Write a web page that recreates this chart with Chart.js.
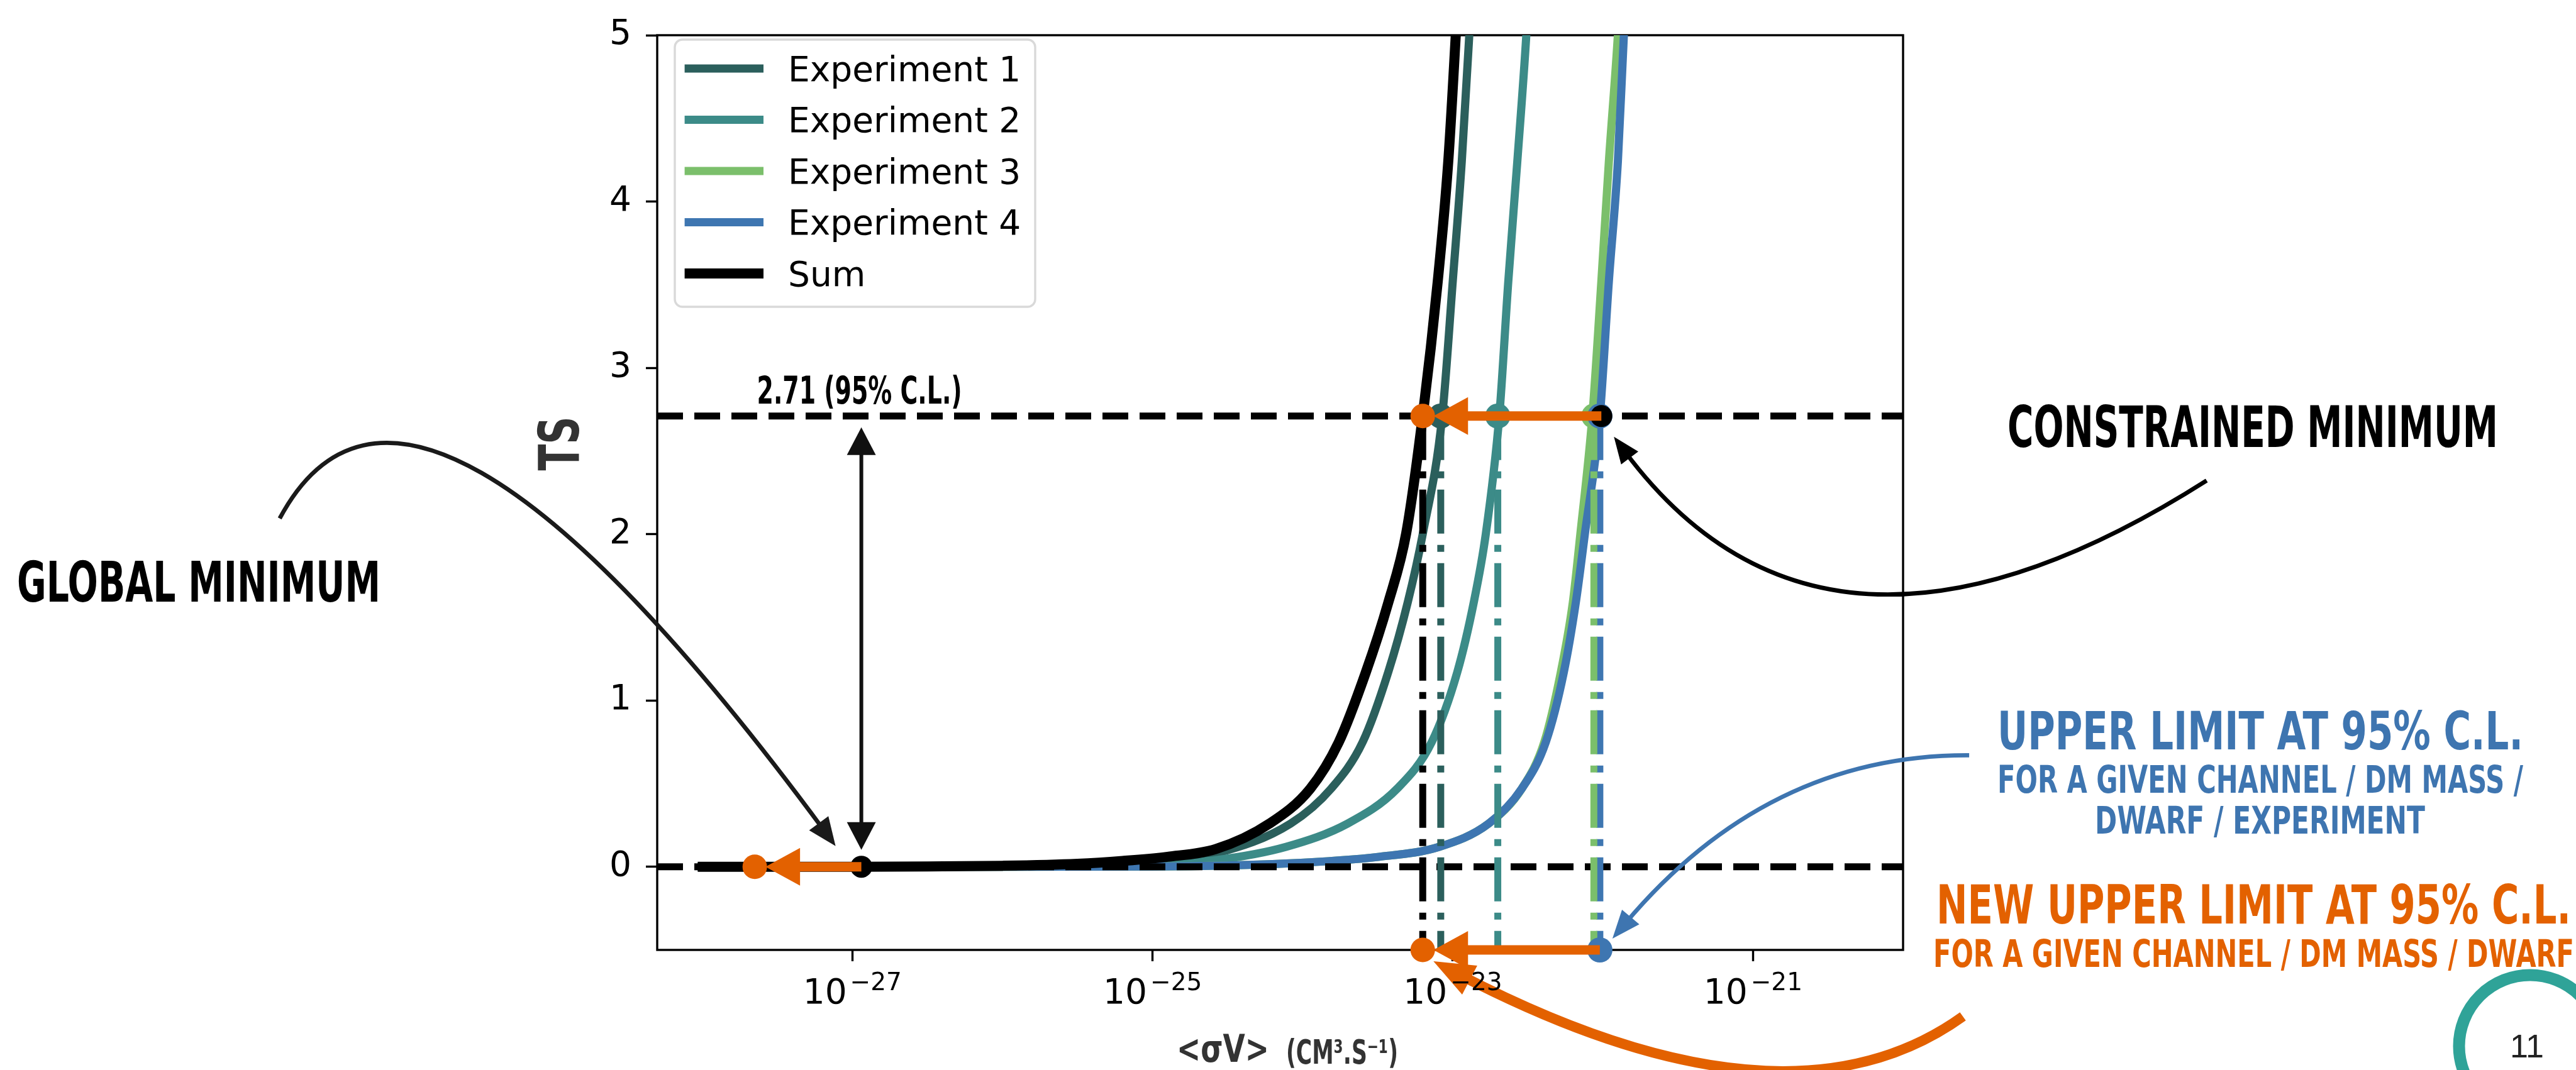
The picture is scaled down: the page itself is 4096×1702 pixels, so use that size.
<!DOCTYPE html>
<html>
<head>
<meta charset="utf-8">
<script src="https://cdn.jsdelivr.net/npm/chart.js@4.4.0/dist/chart.umd.min.js"></script>
<style>
  html, body { margin: 0; padding: 0; background: #fff; overflow: hidden; }
  #wrap { width: 4096px; height: 1702px; }
</style>
</head>
<body>
<div id="wrap"><canvas id="c"></canvas></div>
<script>
// x values are log10(<sigma v>)
const sumLogSv = [-28.03, -27.5, -27.0, -26.5, -26.0, -25.5, -25.2, -24.9, -24.58, -24.22, -23.95, -23.76, -23.58, -23.43, -23.31, -23.20, -23.10, -23.03, -22.98, -22.95];
const sumTS    = [0, 0, 0, 0.002, 0.006, 0.018, 0.035, 0.06, 0.106, 0.26, 0.469, 0.748, 1.167, 1.587, 2.006, 2.71, 3.52, 4.24, 5.0, 5.5];

const exp1LogSv = [-28.03, -27.0, -26.0, -25.5, -25.0, -24.58, -24.08, -23.81, -23.60, -23.43, -23.30, -23.20, -23.07, -23.00, -22.94, -22.89, -22.86];
const exp1TS    = [0, 0, 0.004, 0.01, 0.03, 0.08, 0.26, 0.47, 0.75, 1.17, 1.59, 2.0, 2.71, 3.52, 4.24, 5.0, 5.5];

const exp2LogSv = [-28.03, -27.0, -26.0, -25.0, -24.58, -24.11, -23.70, -23.37, -23.14, -22.97, -22.86, -22.78, -22.69, -22.63, -22.57, -22.51, -22.48];
const exp2TS    = [0, 0, 0.002, 0.015, 0.04, 0.12, 0.26, 0.47, 0.75, 1.17, 1.59, 2.0, 2.71, 3.52, 4.24, 5.0, 5.5];

const exp3LogSv = [-28.03, -26.0, -25.0, -24.11, -23.49, -23.09, -22.76, -22.54, -22.39, -22.28, -22.20, -22.15, -22.07, -22.01, -21.96, -21.90, -21.87];
const exp3TS    = [0, 0, 0.002, 0.02, 0.06, 0.12, 0.26, 0.47, 0.75, 1.17, 1.59, 2.0, 2.71, 3.52, 4.24, 5.0, 5.5];

const exp4LogSv = [-28.03, -26.0, -25.0, -24.11, -23.49, -23.09, -22.76, -22.54, -22.38, -22.26, -22.18, -22.12, -22.02, -21.96, -21.90, -21.86, -21.83];
const exp4TS    = [0, 0, 0.002, 0.02, 0.06, 0.12, 0.26, 0.47, 0.75, 1.17, 1.59, 2.0, 2.71, 3.52, 4.24, 5.0, 5.5];

const seriesLabels = ["Experiment 1", "Experiment 2", "Experiment 3", "Experiment 4", "Sum"];
const seriesColors = ["#2b5f5c", "#3c8b88", "#7bbf6b", "#3e76b1", "#000000"];

const thresholdTS = [0, 2.71];
const upperLimitLogSv = [-23.20, -23.08, -22.70, -22.06, -22.02]; // sum, exp 1..4 at TS = 2.71
const upperLimitColors = ["#000000", "#2b5f5c", "#3c8b88", "#7bbf6b", "#3e76b1"];

const expDotLogSv = [-23.08, -22.70, -22.06, -22.02, -22.02];
const expDotTS    = [2.71, 2.71, 2.71, 2.71, -0.5];
const expDotColors = ["#2b5f5c", "#3c8b88", "#7bbf6b", "#3e76b1", "#3e76b1"];

const newLimitLogSv = [-23.20, -23.20, -27.65];
const newLimitTS    = [2.71, -0.5, 0];
const minimumLogSv  = [-22.01, -26.94]; // constrained, global
const minimumTS     = [2.71, 0];

const arrowFromLogSv = [-26.94, -22.01, -22.02];
const arrowToLogSv   = [-27.65, -23.20, -23.20];
const arrowTS        = [0, 2.71, -0.5];

const xMinLog = -28.3, xMaxLog = -20;
const xTickExps = [-27, -25, -23, -21];
const yTickValues = [0, 1, 2, 3, 4, 5];

const ORANGE = "#e36100";
const BLUE = "#3e75b0";
const HAND = '"Liberation Sans Narrow", "DejaVu Sans Condensed", "DejaVu Sans", sans-serif';

function pts(xs, ys) {
  return xs.map((x, i) => ({ x: x, y: ys[i] }));
}

const curveSets = [
  [exp1LogSv, exp1TS, 13, 55],
  [exp2LogSv, exp2TS, 13, 54],
  [exp3LogSv, exp3TS, 13, 53],
  [exp4LogSv, exp4TS, 13, 52],
  [sumLogSv, sumTS, 16, 51],
];

const datasets = curveSets.map((c, i) => ({
  label: seriesLabels[i],
  data: pts(c[0], c[1]),
  borderColor: seriesColors[i],
  backgroundColor: seriesColors[i],
  borderWidth: c[2],
  cubicInterpolationMode: "monotone",
  pointRadius: 0,
  order: c[3],
  inLegend: true,
}));

// dashed TS = 0 and TS = 2.71 lines
thresholdTS.forEach((t) => {
  datasets.push({
    data: [{ x: xMinLog, y: t }, { x: xMaxLog, y: t }],
    borderColor: "#000",
    borderWidth: 11,
    borderDash: [41, 18],
    pointRadius: 0,
    order: 40,
  });
});

// dash-dot upper limits
upperLimitLogSv.forEach((v, i) => {
  datasets.push({
    data: [{ x: v, y: 2.71 }, { x: v, y: -0.5 }],
    borderColor: upperLimitColors[i],
    borderWidth: 11,
    borderDash: [70, 18, 11, 18],
    pointRadius: 0,
    order: 30,
  });
});

datasets.push({
  data: pts(expDotLogSv, expDotTS),
  showLine: false,
  pointRadius: 20,
  pointBorderWidth: 0,
  pointBackgroundColor: expDotColors,
  order: 20,
  clip: false,
});
datasets.push({
  data: pts(newLimitLogSv, newLimitTS),
  showLine: false,
  pointRadius: 19.5,
  pointBorderWidth: 0,
  pointBackgroundColor: ORANGE,
  order: 10,
  clip: false,
});
datasets.push({
  data: pts(minimumLogSv, minimumTS),
  showLine: false,
  pointRadius: 17.5,
  pointBorderWidth: 0,
  pointBackgroundColor: "#000",
  order: 10,
  clip: false,
});

function head(ctx, tx, ty, ux, uy, len, half) {
  const bx = tx - ux * len, by = ty - uy * len;
  ctx.beginPath();
  ctx.moveTo(tx, ty);
  ctx.lineTo(bx - uy * half, by + ux * half);
  ctx.lineTo(bx + uy * half, by - ux * half);
  ctx.closePath();
  ctx.fill();
}

function curvedArrow(ctx, p0, c, tip, color, lw, len, half) {
  const dx = tip[0] - c[0], dy = tip[1] - c[1];
  const n = Math.hypot(dx, dy);
  const ux = dx / n, uy = dy / n;
  ctx.save();
  ctx.strokeStyle = color;
  ctx.fillStyle = color;
  ctx.lineWidth = lw;
  ctx.beginPath();
  ctx.moveTo(p0[0], p0[1]);
  ctx.quadraticCurveTo(c[0], c[1], tip[0] - ux * len * 0.7, tip[1] - uy * len * 0.7);
  ctx.stroke();
  head(ctx, tip[0], tip[1], ux, uy, len, half);
  ctx.restore();
}

// squeeze/stretch handwritten-style text into the box it has in the picture
function fitText(ctx, str, cx, base, w, cap, color, rot) {
  ctx.save();
  ctx.font = "bold " + (cap / 0.72) + "px " + HAND;
  const m = ctx.measureText(str).width;
  ctx.translate(cx, base);
  if (rot) ctx.rotate(rot);
  ctx.scale(w / m, 1);
  ctx.textAlign = "center";
  ctx.textBaseline = "alphabetic";
  ctx.fillStyle = color;
  ctx.fillText(str, 0, 0);
  ctx.restore();
}

const decor = {
  id: "decor",
  beforeDatasetsDraw(chart) {
    const { ctx, chartArea: a } = chart;
    ctx.save();
    ctx.strokeStyle = "#000";
    ctx.lineWidth = 3.4;
    ctx.strokeRect(a.left, a.top, a.right - a.left, a.bottom - a.top);
    ctx.restore();
  },
  afterDatasetsDraw(chart) {
    const { ctx, chartArea: a } = chart;
    const x = chart.scales.x, y = chart.scales.y;
    const px = (v) => x.getPixelForValue(v);
    const py = (v) => y.getPixelForValue(v);

    // orange "new limit" arrows
    ctx.save();
    ctx.strokeStyle = ORANGE;
    ctx.fillStyle = ORANGE;
    ctx.lineWidth = 15;
    arrowFromLogSv.forEach((f, i) => {
      const sx = px(f), tx = px(arrowToLogSv[i]) + 17, yy = py(arrowTS[i]);
      ctx.beginPath();
      ctx.moveTo(sx, yy);
      ctx.lineTo(tx + 54, yy);
      ctx.stroke();
      head(ctx, tx, yy, -1, 0, 55, 30);
    });
    ctx.restore();

    // double arrow between TS = 0 and TS = 2.71
    ctx.save();
    ctx.strokeStyle = "#111";
    ctx.fillStyle = "#111";
    ctx.lineWidth = 6;
    const gx = px(minimumLogSv[1]);
    const yb = py(thresholdTS[0]) - 27, yt = py(thresholdTS[1]) + 18;
    ctx.beginPath();
    ctx.moveTo(gx, yb - 40);
    ctx.lineTo(gx, yt + 40);
    ctx.stroke();
    head(ctx, gx, yb, 0, 1, 44, 23);
    head(ctx, gx, yt, 0, -1, 44, 23);
    ctx.restore();

    fitText(ctx, "2.71 (95% C.L.)", gx - 3, py(thresholdTS[1]) - 20, 326, 44, "#000");

    // curved annotation arrows
    curvedArrow(ctx, [444.7, 824.7], [654.4, 432], [gx - 41, py(0) - 33], "#1a1a1a", 6.7, 45, 19);
    curvedArrow(ctx, [3508.7, 764.3], [2904.6, 1148.6], [px(minimumLogSv[0]) + 20, py(2.71) + 33], "#000", 6.7, 42, 17);
    curvedArrow(ctx, [3131.1, 1201.4], [2810.7, 1199.8], [px(expDotLogSv[4]) + 20, py(-0.5) - 18], BLUE, 6.7, 45, 18);
    curvedArrow(ctx, [3121.1, 1616.8], [2839.2, 1819.8], [px(newLimitLogSv[1]) + 17, py(-0.5) + 18], ORANGE, 16, 65, 26);

    // x tick labels 10^n
    ctx.save();
    ctx.fillStyle = "#000";
    ctx.textAlign = "left";
    ctx.textBaseline = "alphabetic";
    xTickExps.forEach((v) => {
      const sup = "\u2212" + Math.abs(v);
      ctx.font = '55px "DejaVu Sans"';
      const w10 = ctx.measureText("10").width;
      ctx.font = '39px "DejaVu Sans"';
      const ws = ctx.measureText(sup).width;
      const left = px(v) - (w10 + 5 + ws) / 2;
      ctx.font = '55px "DejaVu Sans"';
      ctx.fillText("10", left, a.bottom + 85);
      ctx.font = '39px "DejaVu Sans"';
      ctx.fillText(sup, left + w10 + 5, a.bottom + 64);
    });
    ctx.restore();
  },
  afterDraw(chart) {
    const { ctx } = chart;

    // legend
    const lx = 1073, ly = 63, lw = 573, lh = 425;
    ctx.save();
    ctx.beginPath();
    ctx.roundRect(lx, ly, lw, lh, 12);
    ctx.fillStyle = "rgba(255,255,255,0.8)";
    ctx.fill();
    ctx.strokeStyle = "#d9d9d9";
    ctx.lineWidth = 3.4;
    ctx.stroke();
    ctx.font = '55px "DejaVu Sans"';
    ctx.textAlign = "left";
    ctx.textBaseline = "alphabetic";
    chart.data.datasets.filter((d) => d.inLegend).forEach((d, i) => {
      const cy = 108.9 + i * 81.5;
      ctx.strokeStyle = d.borderColor;
      ctx.lineWidth = d.borderWidth;
      ctx.beginPath();
      ctx.moveTo(1088.6, cy);
      ctx.lineTo(1214, cy);
      ctx.stroke();
      ctx.fillStyle = "#000";
      ctx.fillText(d.label, 1253, cy + 20);
    });
    ctx.restore();

    // axis titles
    fitText(ctx, "TS", 919.5, 705.6, 86, 64, "#333", -Math.PI / 2);
    fitText(ctx, "<\u03c3V>", 1944.5, 1689, 147, 43, "#333");
    fitText(ctx, "(CM\u00b3.S\u207b\u00b9)", 2134, 1692, 178, 38, "#333");

    // annotations
    fitText(ctx, "GLOBAL MINIMUM", 316, 957, 578, 64, "#000");
    fitText(ctx, "CONSTRAINED MINIMUM", 3582, 711, 780, 65, "#000");
    fitText(ctx, "UPPER LIMIT AT 95% C.L.", 3594, 1192, 836, 60, BLUE);
    fitText(ctx, "FOR A GIVEN CHANNEL / DM MASS /", 3594, 1261, 836, 44, BLUE);
    fitText(ctx, "DWARF / EXPERIMENT", 3593.5, 1326, 525, 44, BLUE);
    fitText(ctx, "NEW UPPER LIMIT AT 95% C.L.", 3583.5, 1469, 1009, 62, ORANGE);
    fitText(ctx, "FOR A GIVEN CHANNEL / DM MASS / DWARF", 3583.5, 1538, 1019, 43, ORANGE);

    // page number badge
    ctx.save();
    ctx.beginPath();
    ctx.arc(4023, 1664, 113, 0, Math.PI * 2);
    ctx.strokeStyle = "#2fa398";
    ctx.lineWidth = 19;
    ctx.stroke();
    ctx.font = '52px "Liberation Sans", sans-serif';
    ctx.fillStyle = "#222";
    ctx.textAlign = "center";
    ctx.fillText("11", 4018, 1682);
    ctx.restore();
  },
};

const chart = new Chart(document.getElementById("c"), {
  type: "line",
  data: { datasets: datasets },
  options: {
    responsive: true,
    maintainAspectRatio: false,
    animation: false,
    devicePixelRatio: 1,
    layout: { padding: { left: 925, right: 1070, top: 36.5, bottom: 91 } },
    plugins: { legend: { display: false }, tooltip: { enabled: false } },
    elements: { point: { radius: 0, hoverRadius: 0 }, line: { borderCapStyle: "butt" } },
    scales: {
      x: {
        type: "linear",
        min: xMinLog,
        max: xMaxLog,
        afterBuildTicks: (s) => { s.ticks = xTickExps.map((v) => ({ value: v })); },
        afterFit: (s) => { s.height = 100; },
        ticks: { display: false },
        grid: { drawOnChartArea: false, drawTicks: true, tickLength: 18, tickWidth: 3.4, tickColor: "#000" },
        border: { display: false },
      },
      y: {
        type: "linear",
        min: -0.5,
        max: 5,
        afterBuildTicks: (s) => { s.ticks = yTickValues.map((v) => ({ value: v })); },
        afterFit: (s) => { s.width = 120; },
        ticks: { font: { family: "DejaVu Sans", size: 55 }, color: "#000", padding: 23 },
        grid: { drawOnChartArea: false, drawTicks: true, tickLength: 18, tickWidth: 3.4, tickColor: "#000" },
        border: { display: false },
      },
    },
  },
  plugins: [decor],
});
</script>
</body>
</html>
